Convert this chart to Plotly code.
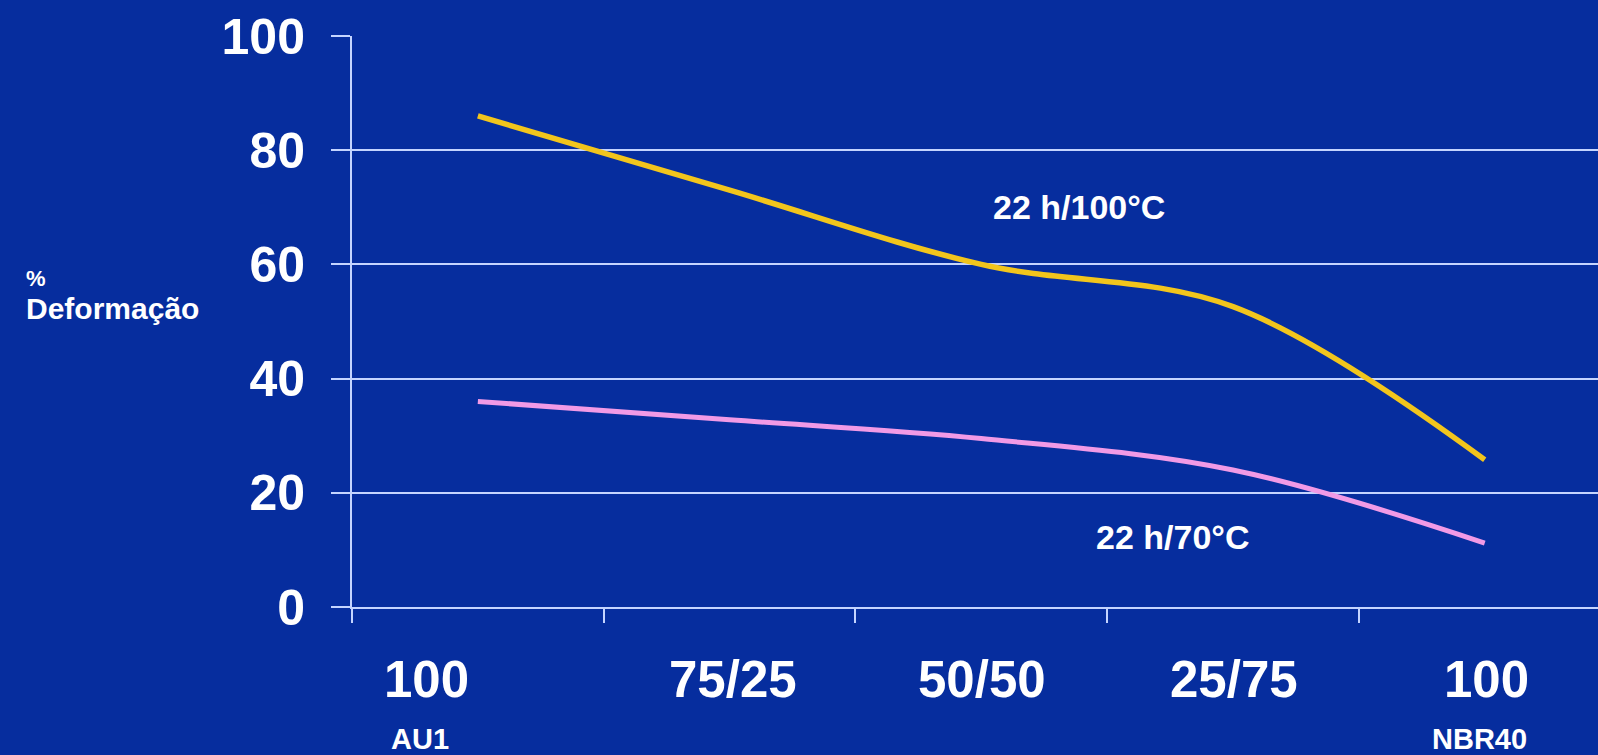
import plotly.graph_objects as go

categories = ["AU1 100", "75/25", "50/50", "25/75", "NBR40 100"]
tick_labels = ["100", "75/25", "50/50", "25/75", "100"]
sub_labels = {"AU1 100": "AU1", "NBR40 100": "NBR40"}
series_100C = [86, 73, 60, 52.6, 25.8]
series_70C = [36, 32.8, 29.5, 24, 11.2]
series_names = ["22 h/100°C", "22 h/70°C"]
y_title = ["%", "Deformação"]

BG = "#062d9e"
GRID = "#c4d4ff"
FONT = "Liberation Sans, Arial, sans-serif"

fig = go.Figure()
fig.add_trace(go.Scatter(x=categories, y=series_100C, mode="lines", name=series_names[0],
                         line=dict(color="#f2c51c", width=5.5, shape="spline", smoothing=1.0)))
fig.add_trace(go.Scatter(x=categories, y=series_70C, mode="lines", name=series_names[1],
                         line=dict(color="#f19ae6", width=5, shape="spline", smoothing=1.0)))

annotations = []
# main category labels
shifts = [-51, 3, 1, 1, 2]
for cat, lab, s in zip(categories, tick_labels, shifts):
    annotations.append(dict(x=cat, xref="x", y=0, yref="paper", yshift=-72, xshift=s,
                            text="<b>%s</b>" % lab, showarrow=False,
                            font=dict(family=FONT, size=51, color="white"), yanchor="middle"))
sub_shift = {"AU1 100": -58, "NBR40 100": -5}
for cat, lab in sub_labels.items():
    annotations.append(dict(x=cat, xref="x", y=0, yref="paper", yshift=-132, xshift=sub_shift[cat],
                            text="<b>%s</b>" % lab, showarrow=False, borderpad=0,
                            font=dict(family=FONT, size=29, color="white"), yanchor="middle"))
# series labels
annotations.append(dict(x=2.39, xref="x", y=70, yref="y", text="<b>%s</b>" % series_names[0],
                        showarrow=False, font=dict(family=FONT, size=34, color="white")))
annotations.append(dict(x=2.76, xref="x", y=12.3, yref="y", text="<b>%s</b>" % series_names[1],
                        showarrow=False, font=dict(family=FONT, size=34, color="white")))
# y-axis title (two lines)
annotations.append(dict(x=0, xref="paper", y=0.5, yref="paper", xanchor="left", xshift=-327, yshift=43,
                        text="<b>%s</b>" % y_title[0], showarrow=False, yanchor="middle", borderpad=0,
                        font=dict(family=FONT, size=22, color="white")))
annotations.append(dict(x=0, xref="paper", y=0.5, yref="paper", xanchor="left", xshift=-327, yshift=13,
                        text="<b>%s</b>" % y_title[1], showarrow=False, yanchor="middle", borderpad=0,
                        font=dict(family=FONT, size=30, color="white")))

fig.update_layout(
    width=1598, height=755,
    paper_bgcolor=BG, plot_bgcolor=BG,
    margin=dict(l=352, r=0, t=36, b=148),
    showlegend=False,
    annotations=annotations,
    xaxis=dict(type="category", range=[-0.5, 4.45], showgrid=False, showticklabels=False,
               showline=True, linecolor=GRID, linewidth=2,
               ticks="outside", tickson="boundaries", ticklen=14, tickcolor=GRID, tickwidth=2),
    yaxis=dict(range=[0, 100], tickvals=[0, 20, 40, 60, 80, 100], showgrid=True, gridcolor=GRID,
               gridwidth=2, zeroline=False, showline=True, linecolor=GRID, linewidth=2,
               ticks="outside", ticklen=19, tickcolor=GRID, tickwidth=2,
               ticklabelstandoff=16,
               tickfont=dict(family=FONT, size=50, color="white", weight="bold")),
)

fig.write_html("out.html", config={"displayModeBar": False},
               post_script="document.body.style.margin='0px';document.body.style.backgroundColor='%s';" % BG)
